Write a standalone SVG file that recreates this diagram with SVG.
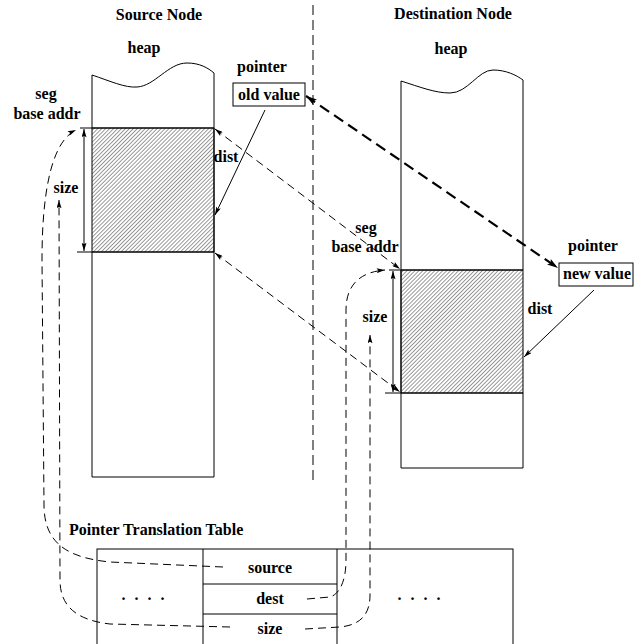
<svg xmlns="http://www.w3.org/2000/svg" width="635" height="644" viewBox="0 0 635 644">
<style>
text{font-family:"Liberation Serif","Times New Roman",serif;font-weight:bold;font-size:16px;fill:#000;text-anchor:middle}
.ln{fill:none;stroke:#000;stroke-width:1}
.thick{fill:none;stroke:#000;stroke-width:1.6}
.dash{fill:none;stroke:#000;stroke-width:1;stroke-dasharray:8 5}
.bigdash{fill:none;stroke:#000;stroke-width:2.2;stroke-dasharray:11 6}
.div{fill:none;stroke:#000;stroke-width:1;stroke-dasharray:10 5}
</style>
<defs>
<pattern id="hatch" patternUnits="userSpaceOnUse" width="2.8" height="2.8" patternTransform="rotate(45)">
<line x1="0" y1="0" x2="0" y2="2.8" stroke="#000" stroke-width="0.8"/>
</pattern>
<marker id="ah" viewBox="0 0 10 6" refX="10" refY="3" markerWidth="9" markerHeight="5" markerUnits="userSpaceOnUse" orient="auto-start-reverse">
<path d="M0,0 L10,3 L0,6 L2,3 Z" fill="#000"/>
</marker>
<marker id="ahb" viewBox="0 0 10 6" refX="10" refY="3" markerWidth="11" markerHeight="7" markerUnits="userSpaceOnUse" orient="auto-start-reverse">
<path d="M0,0 L10,3 L0,6 L2,3 Z" fill="#000"/>
</marker>
</defs>

<g id="titles">
<text x="159" y="20">Source Node</text>
<text x="453" y="19">Destination Node</text>
</g>

<line id="divider" class="div" x1="313" y1="5" x2="313" y2="480"/>

<g id="source-heap">
<path class="ln" d="M92,75 C110,81 125,88 137,87 C155,86 168,63 187,63 C200,63 208,68 214,73 L214,477 L92,477 Z"/>
<rect x="92" y="128" width="122" height="124" fill="url(#hatch)"/>
<line class="thick" x1="92" y1="128" x2="214" y2="128"/>
<line class="thick" x1="92" y1="252" x2="214" y2="252"/>
<line class="ln" x1="214" y1="128" x2="214" y2="252"/>
<text x="144" y="53">heap</text>
</g>

<g id="source-seg">
<text x="46" y="99">seg</text>
<text x="47" y="119">base addr</text>
<line class="ln" x1="80" y1="128" x2="92" y2="128"/>
<line class="ln" x1="77" y1="252" x2="92" y2="252"/>
<line class="ln" x1="84" y1="129" x2="84" y2="251" marker-start="url(#ah)" marker-end="url(#ah)"/>
<text x="66" y="193">size</text>
<text x="226" y="162">dist</text>
</g>

<g id="source-pointer">
<text x="262" y="72">pointer</text>
<rect class="ln" x="233" y="83" width="72" height="23"/>
<text x="269" y="100">old value</text>
</g>

<g id="dest-heap">
<path class="ln" d="M401,81 C420,87 435,93 450,93 C468,93 478,70 493,70 C506,70 516,75 523,80 L523,468 L401,468 Z"/>
<rect x="401" y="270" width="122" height="123" fill="url(#hatch)"/>
<line class="thick" x1="401" y1="270" x2="523" y2="270"/>
<line class="thick" x1="401" y1="393" x2="523" y2="393"/>
<line class="ln" x1="401" y1="270" x2="401" y2="393"/>
<text x="451" y="54">heap</text>
</g>

<g id="dest-seg">
<text x="366" y="233">seg</text>
<text x="365" y="252">base addr</text>
<line class="ln" x1="389" y1="270" x2="401" y2="270"/>
<line class="ln" x1="385" y1="393" x2="401" y2="393"/>
<line class="ln" x1="393" y1="271" x2="393" y2="392" marker-start="url(#ah)" marker-end="url(#ah)"/>
<text x="375" y="322">size</text>
<text x="540" y="314">dist</text>
</g>

<g id="dest-pointer">
<text x="593" y="251">pointer</text>
<rect class="ln" x="559" y="263" width="74" height="23"/>
<text x="597" y="279">new value</text>
</g>

<g id="table">
<text x="69" y="535" style="text-anchor:start">Pointer Translation Table</text>
<rect class="ln" x="97" y="549" width="416" height="120"/>
<line class="ln" x1="203" y1="549" x2="203" y2="644"/>
<line class="ln" x1="337" y1="549" x2="337" y2="644"/>
<line class="ln" x1="203" y1="584" x2="337" y2="584"/>
<line class="ln" x1="203" y1="614" x2="337" y2="614"/>
<text x="270" y="573">source</text>
<text x="270" y="604">dest</text>
<text x="270" y="634">size</text>
<text x="143" y="600" style="word-spacing:5px">. . . .</text>
<text x="419" y="600" style="word-spacing:5px">. . . .</text>
</g>

<g id="connectors">
<line class="ln" x1="265" y1="110" x2="215" y2="215" marker-end="url(#ah)"/>
<line class="ln" x1="594" y1="290" x2="524" y2="357" marker-end="url(#ah)"/>
<line class="bigdash" x1="306" y1="96" x2="558" y2="268" marker-start="url(#ahb)" marker-end="url(#ahb)"/>
<line class="dash" x1="215" y1="129" x2="400" y2="269" marker-start="url(#ah)" marker-end="url(#ah)"/>
<line class="dash" x1="215" y1="253" x2="400" y2="392" marker-start="url(#ah)" marker-end="url(#ah)"/>
<path class="dash" d="M223,567 L110,562 C70,558 44,545 44,505 L42,260 C42,180 55,140 76,130" marker-end="url(#ah)"/>
<path class="dash" d="M230,627 L110,624 C75,620 60,605 60,580 L59,200" marker-end="url(#ah)"/>
<path class="dash" d="M307,599 L330,597 C340,594 346,580 346,560 L346,310 C346,285 360,272 385,270" marker-end="url(#ah)"/>
<path class="dash" d="M305,629 L340,627 C360,625 370,615 370,595 L370,335" marker-end="url(#ah)"/>
</g>
</svg>
